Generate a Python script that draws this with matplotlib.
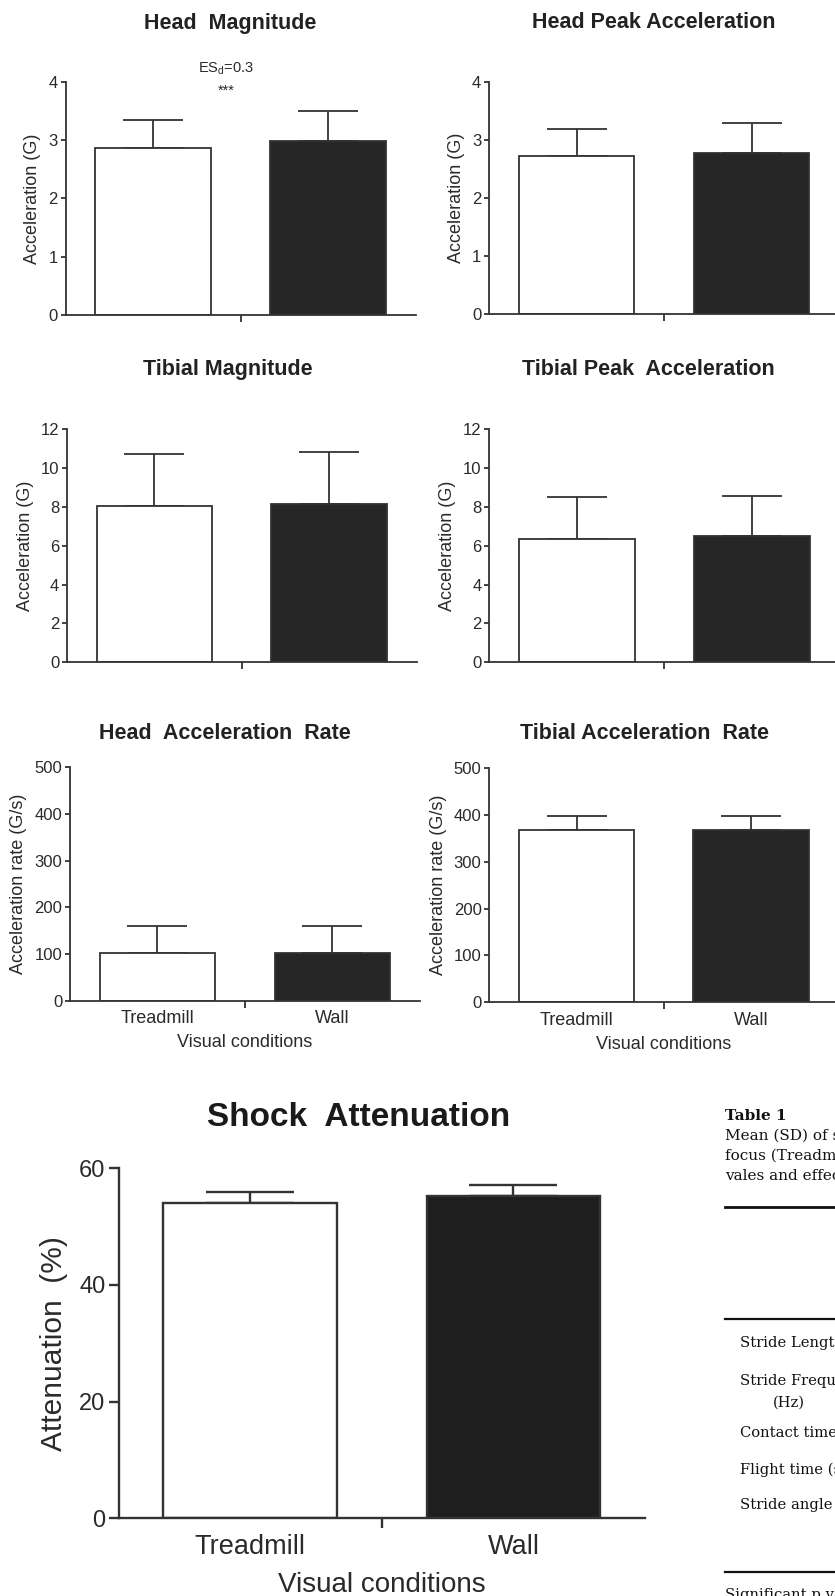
import matplotlib
matplotlib.use('Agg')
import matplotlib.pyplot as plt
from matplotlib.lines import Line2D

plt.rcParams['font.family'] = ['Liberation Sans', 'DejaVu Sans']
plt.rcParams['mathtext.fontset'] = 'custom'
plt.rcParams['mathtext.rm'] = 'Liberation Sans'

# ---------------- data ----------------
conditions = ['Treadmill', 'Wall']

head_mag_mean = [2.86, 2.98]
head_mag_sd = [0.48, 0.52]

head_peak_mean = [2.73, 2.77]
head_peak_sd = [0.46, 0.52]

tibial_mag_mean = [8.05, 8.17]
tibial_mag_sd = [2.69, 2.66]

tibial_peak_mean = [6.37, 6.52]
tibial_peak_sd = [2.13, 2.03]

head_rate_mean = [103, 103]
head_rate_sd = [57, 57]

tibial_rate_mean = [369, 367]
tibial_rate_sd = [30, 30]

shock_mean = [54.0, 55.2]
shock_sd = [2.0, 1.9]

g_ticks = [0, 1, 2, 3, 4]
tib_ticks = [0, 2, 4, 6, 8, 10, 12]
rate_ticks = [0, 100, 200, 300, 400, 500]
shock_ticks = [0, 20, 40, 60]

table_title = 'Table 1'
table_caption = ['Mean (SD) of stride parameters for each visual',
                 'focus (Treadmill and Wall) conditions with p-',
                 'vales and effect sizes (ES).']
table_rows = ['Stride Length (m)', 'Stride Frequency', '(Hz)',
              'Contact time (s)', 'Flight time (s)', 'Stride angle (°)']
table_note = 'Significant p values are in bold.'

# ---------------- figure ----------------
W, H = 835, 1596
fig = plt.figure(figsize=(W / 100, H / 100), dpi=100)
fig.patch.set_facecolor('white')

AX = '#333333'
TXT = '#2a2a2a'


def add_ax(left, right, top, bottom):
    return fig.add_axes([left / W, 1 - bottom / H, (right - left) / W, (bottom - top) / H])


def draw(ax, means, sds, yticks, ylabel, xlabels, big=False, fill='#262626'):
    lw = 1.7 if big else 1.3
    x = [0, 1]
    ax.bar(x, means, width=0.66, color=['white', fill], edgecolor=AX,
           linewidth=lw, zorder=2)
    ax.errorbar(x, means, yerr=[[0, 0], sds], fmt='none', ecolor=AX,
                elinewidth=lw, capsize=(32 if big else 21.5), capthick=lw, zorder=1)
    ax.set_xlim(-0.5, 1.5)
    ax.set_ylim(yticks[0], yticks[-1])
    ax.set_yticks(yticks)
    for s in ['top', 'right']:
        ax.spines[s].set_visible(False)
    for s in ['left', 'bottom']:
        ax.spines[s].set_color(AX)
        ax.spines[s].set_linewidth(lw)
    ax.set_xticks([0.5])
    ax.set_xticklabels([''])
    ax.tick_params(axis='x', which='major', length=(7.5 if big else 5), width=lw, color=AX)
    ax.tick_params(axis='y', length=(7.5 if big else 3.6), width=lw, color=AX,
                   labelsize=(17 if big else 12), labelcolor=TXT, pad=2)
    ax.set_ylabel(ylabel, fontsize=(21.5 if big else 13), color=TXT,
                  labelpad=(8 if big else 5))
    if xlabels:
        ax.set_xticks([0, 1], minor=True)
        ax.set_xticklabels(conditions, minor=True)
        ax.tick_params(axis='x', which='minor', length=0,
                       labelsize=(19.5 if big else 13), labelcolor=TXT,
                       pad=(11 if big else 7))
        ax.set_xlabel('Visual conditions', fontsize=(20 if big else 13), color=TXT,
                      labelpad=(9 if big else 5))
    ax.patch.set_alpha(0)


ax1 = add_ax(65.5, 415.5, 81.7, 315)
draw(ax1, head_mag_mean, head_mag_sd, g_ticks, 'Acceleration (G)', False)
ax2 = add_ax(489, 839, 81.7, 314.3)
draw(ax2, head_peak_mean, head_peak_sd, g_ticks, 'Acceleration (G)', False)
ax3 = add_ax(67, 416.5, 429.3, 662.3)
draw(ax3, tibial_mag_mean, tibial_mag_sd, tib_ticks, 'Acceleration (G)', False)
ax4 = add_ax(489.3, 839.3, 429.3, 662.3)
draw(ax4, tibial_peak_mean, tibial_peak_sd, tib_ticks, 'Acceleration (G)', False)
ax5 = add_ax(70, 419.7, 767.3, 1000.7)
draw(ax5, head_rate_mean, head_rate_sd, rate_ticks, 'Acceleration rate (G/s)', True)
ax6 = add_ax(489.3, 838.3, 768.3, 1002)
draw(ax6, tibial_rate_mean, tibial_rate_sd, rate_ticks, 'Acceleration rate (G/s)', True)
ax7 = add_ax(118.5, 645, 1168.3, 1518.3)
draw(ax7, shock_mean, shock_sd, shock_ticks, 'Attenuation  (%)', True, big=True, fill='#1e1e1e')

# titles
def ftext(x, y, s, **kw):
    fig.text(x / W, 1 - y / H, s, **kw)

tkw = dict(ha='center', va='center', fontweight='bold', color='#222222', fontsize=15.5)
ftext(230, 23, 'Head  Magnitude', **tkw)
ftext(654, 23, 'Head Peak Acceleration', **tkw)
ftext(228, 369.5, 'Tibial Magnitude', **tkw)
ftext(648.5, 369.5, 'Tibial Peak  Acceleration', **tkw)
ftext(224.7, 733.5, 'Head  Acceleration  Rate', **tkw)
ftext(644, 733.5, 'Tibial Acceleration  Rate', **tkw)
ftext(359, 1117, 'Shock  Attenuation', ha='center', va='center', fontweight='bold',
      color='#1a1a1a', fontsize=24)

# significance annotation
ftext(226, 68.5, r'ES$_\mathregular{d}$=0.3', ha='center', va='center', fontsize=10.5, color=TXT)
ftext(226, 91, '***', ha='center', va='center', fontsize=10.5, color=TXT)

# ---------------- table fragment ----------------
serif = ['DejaVu Serif']
ftext(725, 1116, table_title, ha='left', va='center', fontsize=11, fontweight='bold',
      family=serif, color='#111111')
for i, line in enumerate(table_caption):
    ftext(725, 1135.5 + 20 * i, line, ha='left', va='center', fontsize=11,
          family=serif, color='#111111')
row_y = [1343, 1381.5, 1403, 1433, 1470, 1505]
for lab, yy in zip(table_rows, row_y):
    xx = 773 if lab == '(Hz)' else 740.5
    ftext(xx, yy, lab, ha='left', va='center', fontsize=10.6, family=serif, color='#111111')
ftext(725, 1588, table_note, ha='left', va='top', fontsize=10.6, family=serif, color='#111111')

for yy, lw in [(1206.7, 2.0), (1319, 1.6), (1571.7, 1.6)]:
    fig.add_artist(Line2D([725 / W, 1.05], [1 - yy / H, 1 - yy / H],
                          transform=fig.transFigure, color='#111111', linewidth=lw))

fig.savefig('out.png', dpi=100)
